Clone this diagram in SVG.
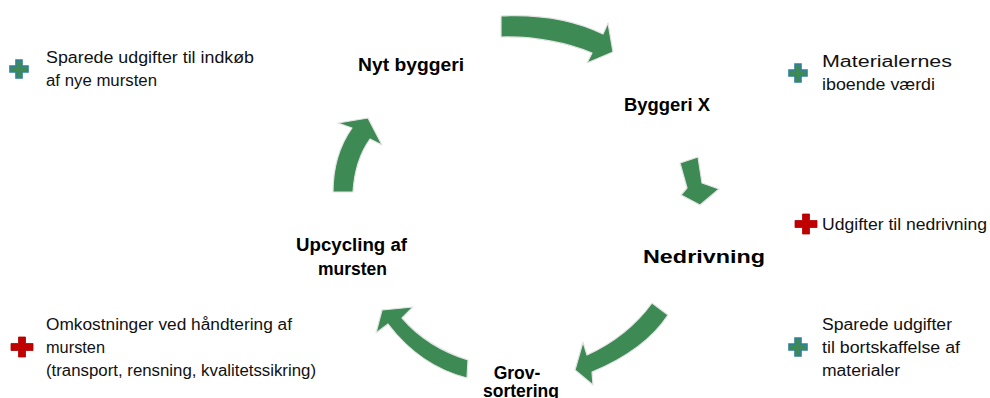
<svg xmlns="http://www.w3.org/2000/svg" width="990" height="398" viewBox="0 0 990 398">
<style>
.arr{fill:#3e8a55;stroke:#e4e4e4;stroke-width:1.2;stroke-linejoin:round}
.lbl{font-family:"Liberation Sans",Arial,sans-serif;font-weight:bold;font-size:17.5px;fill:#000}
.mid{text-anchor:middle}
.txt{font-family:"Liberation Sans",Arial,sans-serif;font-size:16px;fill:#111}
.pg{fill:#3e8a55;stroke:#2f7fa0;stroke-width:1.6}
.pr{fill:#c00000;stroke:#b00000;stroke-width:0.8}
</style>
<defs>
<path id="plus" d="M-3,-9 H3 V-3 H9 V3 H3 V9 H-3 V3 H-9 V-3 H-3 Z"/>
<path id="rplus" d="M-3.5,-10 H3.5 V-3.5 H11 V3.5 H3.5 V10 H-3.5 V3.5 H-11 V-3.5 H-3.5 Z"/>
</defs>
<g id="connectors">
<path class="arr" d="M501,16 Q560,13 603,34 L608,23 L613,52 L587,63 L592,53 Q550,36 501,37 Z"/>
<path class="arr" d="M680,163 L698,157 L702,183 L719,189 L700,205 L681,195 L687,188 Z"/>
<path class="arr" d="M652,303 Q627,337 587,355 L583,342 L575,370 L593,385 L592,372 Q645,350 668,315 Z"/>
<path class="arr" d="M468,360 Q427,347 402,318 L413,307 L382,310 L376,333 L388,324 Q420,366 467,378 Z"/>
<path class="arr" d="M333,192 Q333,155 352,128 L338,123 L368,118 L382,145 L370,139 Q355,160 353,192 Z"/>
</g>
<g id="nyt-byggeri"><text class="lbl" x="358" y="71" textLength="106" lengthAdjust="spacingAndGlyphs">Nyt byggeri</text></g>
<g id="byggeri-x"><text class="lbl" x="624" y="111" textLength="86" lengthAdjust="spacingAndGlyphs">Byggeri X</text></g>
<g id="nedrivning"><text class="lbl" x="643" y="263" textLength="122" lengthAdjust="spacingAndGlyphs">Nedrivning</text></g>
<g id="grovsortering"><text class="lbl mid" x="517" y="379">Grov-</text><text class="lbl mid" x="521" y="397">sortering</text></g>
<g id="upcycling"><text class="lbl" x="296" y="251" textLength="111" lengthAdjust="spacingAndGlyphs">Upcycling af</text><text class="lbl" x="318" y="275" textLength="69" lengthAdjust="spacingAndGlyphs">mursten</text></g>
<g id="note-sparede-indkob">
<use href="#plus" class="pg" x="19" y="69"/>
<text class="txt" x="46" y="63" textLength="208" lengthAdjust="spacingAndGlyphs">Sparede udgifter til indkøb</text>
<text class="txt" x="46" y="86" textLength="111" lengthAdjust="spacingAndGlyphs">af nye mursten</text>
</g>
<g id="note-materialernes">
<use href="#plus" class="pg" x="798" y="73"/>
<text class="txt" x="822" y="67" textLength="130" lengthAdjust="spacingAndGlyphs">Materialernes</text>
<text class="txt" x="822" y="90" textLength="113" lengthAdjust="spacingAndGlyphs">iboende værdi</text>
</g>
<g id="note-udgifter">
<use href="#rplus" class="pr" x="806" y="224"/>
<text class="txt" x="822" y="230" textLength="165" lengthAdjust="spacingAndGlyphs">Udgifter til nedrivning</text>
</g>
<g id="note-bortskaffelse">
<use href="#plus" class="pg" x="798" y="347"/>
<text class="txt" x="822" y="330" textLength="130" lengthAdjust="spacingAndGlyphs">Sparede udgifter</text>
<text class="txt" x="822" y="353" textLength="138" lengthAdjust="spacingAndGlyphs">til bortskaffelse af</text>
<text class="txt" x="822" y="376" textLength="78" lengthAdjust="spacingAndGlyphs">materialer</text>
</g>
<g id="note-omkostninger">
<use href="#rplus" class="pr" x="22" y="347"/>
<text class="txt" x="46" y="330" textLength="246" lengthAdjust="spacingAndGlyphs">Omkostninger ved håndtering af</text>
<text class="txt" x="46" y="353" textLength="59" lengthAdjust="spacingAndGlyphs">mursten</text>
<text class="txt" x="46" y="376" textLength="270" lengthAdjust="spacingAndGlyphs">(transport, rensning, kvalitetssikring)</text>
</g>
</svg>
